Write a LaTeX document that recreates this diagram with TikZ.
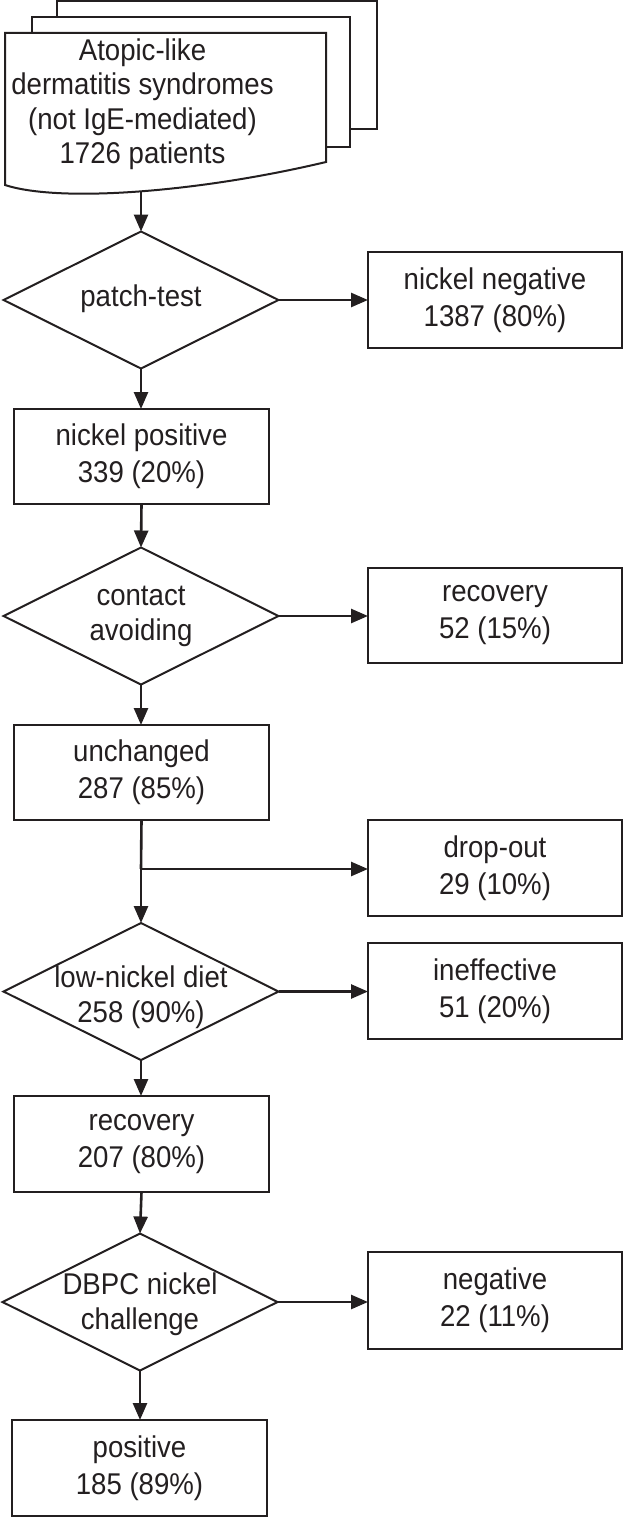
\documentclass[tikz,border=0pt]{standalone}
\usepackage{fontspec}
\setmainfont{Liberation Sans}[FakeStretch=0.92]
\usetikzlibrary{shapes.geometric,arrows.meta}
\definecolor{ink}{RGB}{35,31,32}
\begin{document}
\begin{tikzpicture}[x=1pt,y=-1pt,
  every node/.style={font=\fontsize{30}{37}\selectfont, text=ink, inner sep=0pt, outer sep=0pt},
  box/.style={draw=ink, line width=2pt, fill=white, minimum width=255pt, minimum height=95pt, align=center},
  rbox/.style={box, minimum width=254pt},
  dia/.style={draw=ink, line width=2pt, diamond, minimum width=275pt, minimum height=137pt},
  lbl/.style={align=center},
  sheet/.style={draw=ink, line width=2pt, fill=white, line join=miter},
  arr/.style={draw=ink, line width=2.6pt, -{Triangle[length=17pt,width=14pt]}},
  ln/.style={draw=ink, line width=2.6pt}]
\useasboundingbox (0,0) rectangle (624,1517);

% stacked document
\draw[sheet] (57,1) rectangle (377,129);
\draw[sheet] (32,17) rectangle (350,147);
\draw[sheet] (5,33) -- (326,33) -- (326,162) .. controls (200,192) and (60,203) .. (5,185) -- cycle;
\node[lbl, font=\fontsize{30}{34.5}\selectfont] (doc) at (142.5,104) {Atopic-like\\dermatitis syndromes\\(not IgE-mediated)\\1726 patients};
\coordinate (docb) at (141,191);

% diamonds
\node[dia] (d1) at (141,300) {};
\node[lbl] (d1t) at (141,299) {patch-test};
\node[dia] (d2) at (141,616) {};
\node[lbl, font=\fontsize{30}{35}\selectfont] (d2t) at (141,616) {contact\\avoiding};
\node[dia] (d3) at (141,991.5) {};
\node[lbl, font=\fontsize{30}{35}\selectfont] (d3t) at (141,997) {low-nickel diet\\258 (90\%)};
\node[dia] (d4) at (140,1302) {};
\node[lbl, font=\fontsize{30}{35}\selectfont] (d4t) at (140,1304) {DBPC nickel\\challenge};

% left boxes
\node[box] (np) at (141.5,456.5) {nickel positive\\339 (20\%)};
\node[box] (unch) at (141.5,772.5) {unchanged\\287 (85\%)};
\node[box, minimum height=96pt] (rec2) at (141.5,1144) {recovery\\207 (80\%)};
\node[box, minimum height=96pt] (pos) at (139.5,1468) {positive\\185 (89\%)};

% right boxes
\node[rbox, minimum height=96pt] (nn) at (495,300) {nickel negative\\1387 (80\%)};
\node[rbox] (rec1) at (495,615.5) {recovery\\52 (15\%)};
\node[rbox, minimum height=96pt] (drop) at (495,868) {drop-out\\29 (10\%)};
\node[rbox, minimum height=96pt] (ineff) at (495,991) {ineffective\\51 (20\%)};
\node[rbox, minimum height=97pt] (neg) at (495,1300.5) {negative\\22 (11\%)};

\coordinate (j) at (141,869);

% connectors
\draw[arr] (docb) -- (d1.north);
\draw[arr] (d1.east) -- (d1.east -| nn.west);
\draw[arr] (d1.south) -- (d1.south |- np.north);
\draw[arr] (np.south) -- (d2.north);
\draw[arr] (d2.east) -- (d2.east -| rec1.west);
\draw[arr] (d2.south) -- (d2.south |- unch.north);
\draw[ln] (unch.south) -- (j);
\draw[arr] (j) -- (d3.north);
\draw[arr] (j) -- (j -| drop.west);
\draw[arr] (d3.east) -- (d3.east -| ineff.west);
\draw[arr] (d3.south) -- (d3.south |- rec2.north);
\draw[arr] (rec2.south) -- (d4.north);
\draw[arr] (d4.east) -- (d4.east -| neg.west);
\draw[arr] (d4.south) -- (d4.south |- pos.north);
\end{tikzpicture}
\end{document}
